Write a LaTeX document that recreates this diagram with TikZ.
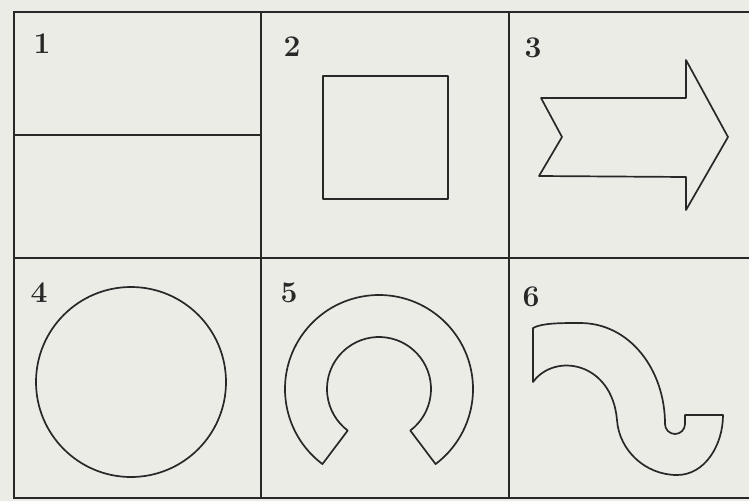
\documentclass[tikz,border=0pt]{standalone}
\usepackage{tikz}
\usetikzlibrary{positioning}
\definecolor{paper}{RGB}{236,236,231}
\definecolor{ink}{RGB}{40,40,40}

\begin{document}
\begin{tikzpicture}[
    x=1pt, y=-1pt,
    grid/.style={draw=ink, line width=1.9pt},
    figline/.style={draw=ink, line width=1.7pt, line join=round},
    num/.style={font=\fontsize{30}{30}\selectfont\bfseries, text=ink, inner sep=0pt}
]
    \path[use as bounding box, fill=paper] (0,0) rectangle (749,501);

    % table
    \draw[grid] (749,12) -- (14,12) -- (14,498) -- (749,498);
    \draw[grid] (261,12) -- (261,498);
    \draw[grid] (509,12) -- (509,498);
    \draw[grid] (14,258) -- (749,258);
    \draw[grid] (14,135) -- (261,135);

    \node[num] (n1) at (42,44) {1};
    \node[num] (n2) at (292,47) {2};
    \node[num] (n3) at (533,48) {3};
    \node[num] (n4) at (39,293) {4};
    \node[num] (n5) at (289,293) {5};
    \node[num] (n6) at (531,297) {6};

    % figures
    \draw[figline] (323,76) rectangle (448,199);
    \draw[figline] (541,98) -- (562,137) -- (539,176) -- (686,177) -- (686,210)
        -- (728,137) -- (686,60) -- (686,98) -- cycle;
    \draw[figline] (131,382) circle (95);
    \draw[figline] ([shift={(379,389)}]127:94) arc[start angle=127, end angle=413, radius=94]
        -- ([shift={(379,389)}]53:52) arc[start angle=53, end angle=-233, radius=52] -- cycle;
    \draw[figline] (533,328) -- (533,382)
        .. controls (555,352) and (612,362) .. (617,420)
        .. controls (619,450) and (645,475) .. (677,475)
        .. controls (705,475) and (723,445) .. (723,415)
        -- (685,415) -- (685,424) arc[start angle=0, end angle=180, radius=10]
        .. controls (665,370) and (630,323) .. (580,323)
        .. controls (560,323) and (542,323) .. cycle;
\end{tikzpicture}
\end{document}
